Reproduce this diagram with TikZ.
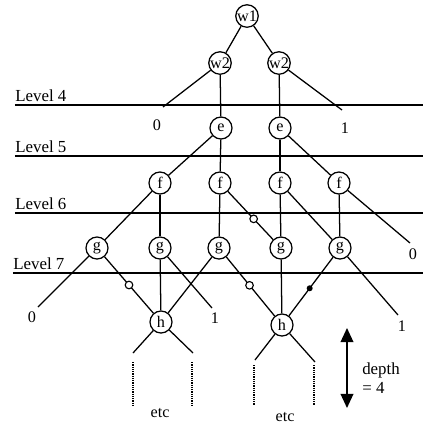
\documentclass[tikz,border=0pt]{standalone}
\usepackage{fontspec}
\setmainfont{Liberation Serif}
\usetikzlibrary{arrows.meta}

\begin{document}
\begin{tikzpicture}[
    x=0.025cm, y=-0.025cm,
    every node/.style={font=\fontsize{11.5}{13}\selectfont},
    vtx/.style={circle, draw, line width=0.9pt, minimum size=0.55cm, inner sep=0pt},
    edge/.style={line width=0.9pt},
    level/.style={line width=1.2pt},
    lvl/.style={anchor=base west, inner sep=0pt, font=\fontsize{12}{14}\selectfont},
    leaf/.style={inner sep=0pt},
    negdot/.style={circle, draw, fill=white, line width=0.8pt, minimum size=0.19cm, inner sep=0pt},
    posdot/.style={circle, fill=black, minimum size=0.15cm, inner sep=0pt},
    etcline/.style={line width=1.6pt, dash pattern=on 0.9pt off 0.7pt},
    dbl/.style={{Triangle[length=10pt, width=9pt]}-{Triangle[length=10pt, width=9pt]}, line width=1.1pt},
]
\useasboundingbox (0,0) rectangle (423,424);

% ============================================================ the levels
\foreach \n/\y/\x in {4/105/15, 5/156/15, 6/213/15, 7/273/13}{
    \coordinate (l\n w) at (\x,\y);
    \coordinate (l\n e) at (423,\y);
    \draw[level] (l\n w) -- (l\n e);
    \node[lvl] (lab\n) at (\x,\y-4) {Level \n};
}

% ============================================================ the vertices
\node[vtx] (w1) at (247,16) {w1};
\node[vtx] (w2a) at (220,63) {w2};
\node[vtx] (w2b) at (279,63) {w2};
\node[vtx] (ea) at (221,128) {e};
\node[vtx] (eb) at (280,128) {e};
\node[vtx] (fa) at (160,183) {f};
\node[vtx] (fb) at (220,183) {f};
\node[vtx] (fc) at (280,183) {f};
\node[vtx] (fd) at (339,183) {f};
\node[vtx] (ga) at (97,248) {g};
\node[vtx] (gb) at (160,248) {g};
\node[vtx] (gc) at (219,248) {g};
\node[vtx] (gd) at (281,248) {g};
\node[vtx] (ge) at (340,248) {g};
\node[vtx] (ha) at (161,322) {h};
\node[vtx] (hb) at (282,325) {h};

% ============================================================ the terminals
\coordinate (t4a) at (163,107);
\coordinate (t4b) at (342,110);
\coordinate (t6) at (410,243);
\coordinate (t7a) at (38,307);
\coordinate (t7b) at (212,308);
\coordinate (t7c) at (398,315);
\node[leaf] (z4a) at (157,125) {0};
\node[leaf] (o4b) at (345,128) {1};
\node[leaf] (z6) at (413,254) {0};
\node[leaf] (z7a) at (32,317) {0};
\node[leaf] (o7b) at (215,318) {1};
\node[leaf] (o7c) at (402,326) {1};

% ============================================================ the edges
\draw[edge] (w1) -- (w2a);
\draw[edge] (w1) -- (w2b);
\draw[edge] (w2a) -- (t4a);
\draw[edge] (w2a) -- (ea);
\draw[edge] (w2b) -- (eb);
\draw[edge] (w2b) -- (t4b);
\draw[edge] (ea) -- (fa);
\draw[edge] (ea) -- (fb);
\draw[edge] (eb) -- (fc);
\draw[edge] (eb) -- (fd);
\draw[edge] (fa) -- (ga);
\draw[edge] (fa) -- (gb);
\draw[edge] (fb) -- (gc);
\draw[edge] (fb) -- node[negdot, pos=0.57] (m1) {} (gd);
\draw[edge] (fc) -- (gd);
\draw[edge] (fc) -- (ge);
\draw[edge] (fd) -- (ge);
\draw[edge] (fd) -- (t6);
\draw[edge] (ga) -- (t7a);
\draw[edge] (ga) -- node[negdot, pos=0.5] (m2) {} (ha);
\draw[edge] (gb) -- (ha);
\draw[edge] (gb) -- (t7b);
\draw[edge] (gc) -- (ha);
\draw[edge] (gc) -- node[negdot, pos=0.48] (m3) {} (hb);
\draw[edge] (gd) -- (hb);
\draw[edge] (ge) -- node[posdot, pos=0.53] (m4) {} (hb);
\draw[edge] (ge) -- (t7c);

% ============================================================ the rest of the tree
\coordinate (ha1) at (133,353);
\coordinate (ha2) at (193,353);
\coordinate (hb1) at (255,360);
\coordinate (hb2) at (315,362);
\draw[edge] (ha) -- (ha1);
\draw[edge] (ha) -- (ha2);
\draw[edge] (hb) -- (hb1);
\draw[edge] (hb) -- (hb2);
\foreach \x/\y in {133/362, 192/362, 254/365, 314/365}{
    \draw[etcline] (\x,\y) -- (\x,405);
}
\node[leaf] (etca) at (160,413) {etc};
\node[leaf] (etcb) at (285,417) {etc};

% ============================================================ depth
\coordinate (dtop) at (347,328);
\coordinate (dbot) at (347,408);
\draw[dbl] (dtop) -- (dbot);
\node[leaf, anchor=west, align=left, font=\fontsize{12}{13.5}\selectfont] (dep) at (362,378) {depth\\= 4};

\end{tikzpicture}
\end{document}
